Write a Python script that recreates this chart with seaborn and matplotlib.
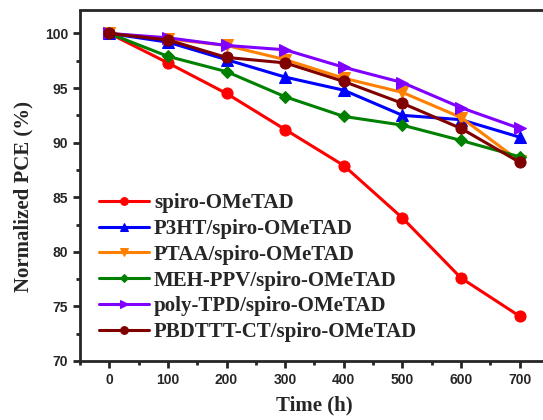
import matplotlib
matplotlib.use("Agg")
import matplotlib.pyplot as plt
import seaborn as sns
import pandas as pd
from matplotlib.ticker import MultipleLocator

sns.set_style("ticks")

time_h = [0, 100, 200, 300, 400, 500, 600, 700]
labels = ["spiro-OMeTAD", "P3HT/spiro-OMeTAD", "PTAA/spiro-OMeTAD",
          "MEH-PPV/spiro-OMeTAD", "poly-TPD/spiro-OMeTAD", "PBDTTT-CT/spiro-OMeTAD"]
spiro = [100, 97.3, 94.5, 91.2, 87.9, 83.1, 77.6, 74.1]
p3ht = [100, 99.2, 97.6, 96.0, 94.8, 92.5, 92.1, 90.5]
ptaa = [100, 99.5, 98.9, 97.6, 95.9, 94.6, 92.3, 88.3]
mehppv = [100, 97.9, 96.5, 94.2, 92.4, 91.6, 90.2, 88.7]
polytpd = [100, 99.6, 98.9, 98.5, 96.9, 95.5, 93.2, 91.3]
pbdttt = [100, 99.4, 97.8, 97.3, 95.6, 93.6, 91.3, 88.2]

series = [spiro, p3ht, ptaa, mehppv, polytpd, pbdttt]
colors = ["#FF0000", "#0000FF", "#FF8000", "#008000", "#8000FF", "#800000"]
markers = ["o", "^", "v", "D", ">", "o"]
msizes = [8, 8, 8, 6, 8, 8]

fig = plt.figure(figsize=(5.43, 4.2), dpi=100)
ax = fig.add_axes([0.1473, 0.1405, 0.8637, 0.8345])

for lab, vals, c, m, ms in zip(labels, series, colors, markers, msizes):
    df = pd.DataFrame({"t": time_h, "v": vals})
    sns.lineplot(data=df, x="t", y="v", ax=ax, color=c, marker=m, markersize=ms,
                 markeredgecolor=c, linewidth=2.2, label=lab)

ax.set_xlim(-50, 750)
ax.set_ylim(70, 102.1)
ax.xaxis.set_major_locator(MultipleLocator(100))
ax.xaxis.set_minor_locator(MultipleLocator(50))
ax.yaxis.set_major_locator(MultipleLocator(5))
ax.yaxis.set_minor_locator(MultipleLocator(2.5))
for s in ax.spines.values():
    s.set_linewidth(2)
ax.spines["right"].set_visible(False)
ax.tick_params(which="major", length=5, width=2, direction="out")
ax.tick_params(which="minor", length=3, width=2, direction="out")
for t in ax.get_xticklabels() + ax.get_yticklabels():
    t.set_fontfamily("Liberation Sans")
    t.set_fontweight("bold")
    t.set_fontsize(10)

ax.set_xlabel("Time (h)", fontfamily="Liberation Serif", fontweight="bold", fontsize=15, labelpad=6)
ax.set_ylabel("Normalized PCE (%)", fontfamily="Liberation Serif", fontweight="bold", fontsize=15)
ax.yaxis.set_label_coords(-0.1, 0.468)

leg = ax.legend(loc="lower left", bbox_to_anchor=(0.0, 0.0), frameon=False,
                prop={"family": "Liberation Serif", "weight": "bold", "size": 15},
                handlelength=2.4, handletextpad=0.25, labelspacing=0.28,
                borderaxespad=0.5, markerscale=0.7)

fig.savefig("out.png", dpi=100)
